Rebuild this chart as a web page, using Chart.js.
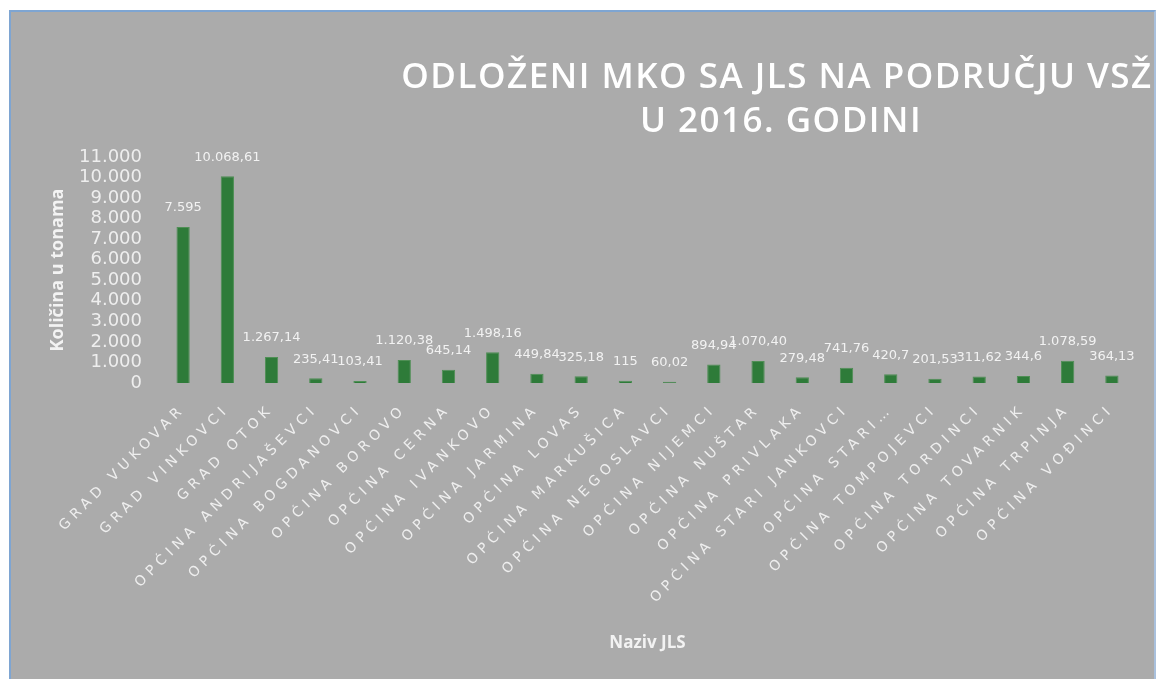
<!DOCTYPE html>
<html><head><meta charset="utf-8">
<script src="https://cdn.jsdelivr.net/npm/chart.js@4.4.1/dist/chart.umd.min.js"></script>
<style>
html,body{margin:0;padding:0;background:#fff;width:1159px;height:679px;overflow:hidden}
#panel{position:absolute;left:9px;top:10px;width:1147px;height:669px;background:#ababab;border-left:2px solid #7ea5d2;border-top:2px solid #7ea5d2;border-right:2px solid #a9c0dc;box-sizing:border-box;}
#wrap{position:absolute;left:0;top:0;width:1159px;height:679px}
</style></head><body>
<div id="panel"></div>
<div id="wrap"><canvas id="c"></canvas></div>
<script>
const categories = ['GRAD VUKOVAR','GRAD VINKOVCI','GRAD OTOK','OPĆINA ANDRIJAŠEVCI','OPĆINA BOGDANOVCI','OPĆINA BOROVO','OPĆINA CERNA','OPĆINA IVANKOVO','OPĆINA JARMINA','OPĆINA LOVAS','OPĆINA MARKUŠICA','OPĆINA NEGOSLAVCI','OPĆINA NIJEMCI','OPĆINA NUŠTAR','OPĆINA PRIVLAKA','OPĆINA STARI JANKOVCI','OPĆINA STARI…','OPĆINA TOMPOJEVCI','OPĆINA TORDINCI','OPĆINA TOVARNIK','OPĆINA TRPINJA','OPĆINA VOĐINCI'];
const values = [7595, 10068.61, 1267.14, 235.41, 103.41, 1120.38, 645.14, 1498.16, 449.84, 325.18, 115, 60.02, 894.94, 1070.40, 279.48, 741.76, 420.7, 201.53, 311.62, 344.6, 1078.59, 364.13];
const valueLabels = ['7.595','10.068,61','1.267,14','235,41','103,41','1.120,38','645,14','1.498,16','449,84','325,18','115','60,02','894,94','1.070,40','279,48','741,76','420,7','201,53','311,62','344,6','1.078,59','364,13'];
const yTickLabels = ['0','1.000','2.000','3.000','4.000','5.000','6.000','7.000','8.000','9.000','10.000','11.000'];
const chartTitle = ['ODLOŽENI MKO SA JLS NA PODRUČJU VSŽ','U 2016. GODINI'];
const xAxisTitle = 'Naziv JLS';
const yAxisTitle = 'Količina u tonama';

const textColor = '#f3f3f3';

const titlePlugin = {
  id: 'customTitle',
  afterDraw(chart) {
    const ctx = chart.ctx;
    ctx.save();
    ctx.font = '600 35px "Open Sans"';
    ctx.letterSpacing = '1.5px';
    ctx.fillStyle = '#ffffff';
    ctx.textAlign = 'center';
    ctx.textBaseline = 'middle';
    ctx.fillText(chartTitle[0], 777, 78);
    ctx.fillText(chartTitle[1], 781, 122);
    ctx.restore();
  }
};

const valueLabelPlugin = {
  id: 'valueLabels',
  afterDatasetsDraw(chart) {
    const ctx = chart.ctx;
    const meta = chart.getDatasetMeta(0);
    ctx.save();
    ctx.font = '13px "DejaVu Sans"';
    ctx.fillStyle = '#f2f2f2';
    ctx.textAlign = 'center';
    ctx.textBaseline = 'middle';
    meta.data.forEach((bar, i) => {
      ctx.fillText(valueLabels[i], bar.x, bar.y - 19);
    });
    ctx.restore();
  }
};

const spacingPlugin = {
  id: 'xSpacing',
  afterLayout(chart) {
    const s = chart.scales.x;
    if (s && !s.__ls) {
      const orig = s.drawLabels;
      s.drawLabels = function (a) {
        const c = this.ctx;
        c.save();
        c.letterSpacing = '5px';
        orig.call(this, a);
        c.restore();
      };
      s.__ls = true;
    }
  }
};

new Chart(document.getElementById('c'), {
  type: 'bar',
  data: {
    labels: categories,
    datasets: [{
      data: values,
      backgroundColor: '#2e7b39',
      borderColor: '#4f8f55',
      borderWidth: 1,
      categoryPercentage: 0.3,
      barPercentage: 1.0
    }]
  },
  options: {
    responsive: true,
    maintainAspectRatio: false,
    animation: false,
    devicePixelRatio: 1,
    layout: { padding: { left: 10, right: 25, top: 157, bottom: 0 } },
    plugins: { legend: { display: false }, tooltip: { enabled: false } },
    scales: {
      x: {
        grid: { display: false, drawTicks: false },
        border: { display: false },
        ticks: {
          color: '#eeeeee',
          font: { family: '"DejaVu Sans"', size: 14 },
          minRotation: 45, maxRotation: 45,
          autoSkip: false,
          padding: 18
        },
        title: {
          display: true, text: xAxisTitle, color: textColor,
          font: { family: '"Open Sans"', size: 17, weight: 'bold' },
          padding: { top: 0, bottom: 26 }
        },
        afterFit(s) { s.height = 296; }
      },
      y: {
        min: 0, max: 11000,
        grid: { display: false, drawTicks: false },
        border: { display: false },
        ticks: {
          stepSize: 1000,
          autoSkip: false,
          color: '#eeeeee',
          font: { family: '"DejaVu Sans"', size: 18 },
          padding: 19,
          callback: (v, i) => yTickLabels[i]
        },
        title: {
          display: true, text: yAxisTitle, color: textColor,
          font: { family: '"Open Sans"', size: 18, weight: 'bold' },
          padding: { top: 37, bottom: 0 }
        },
        afterFit(s) { s.width = 151; }
      }
    }
  },
  plugins: [titlePlugin, valueLabelPlugin, spacingPlugin]
});
</script>
</body></html>
